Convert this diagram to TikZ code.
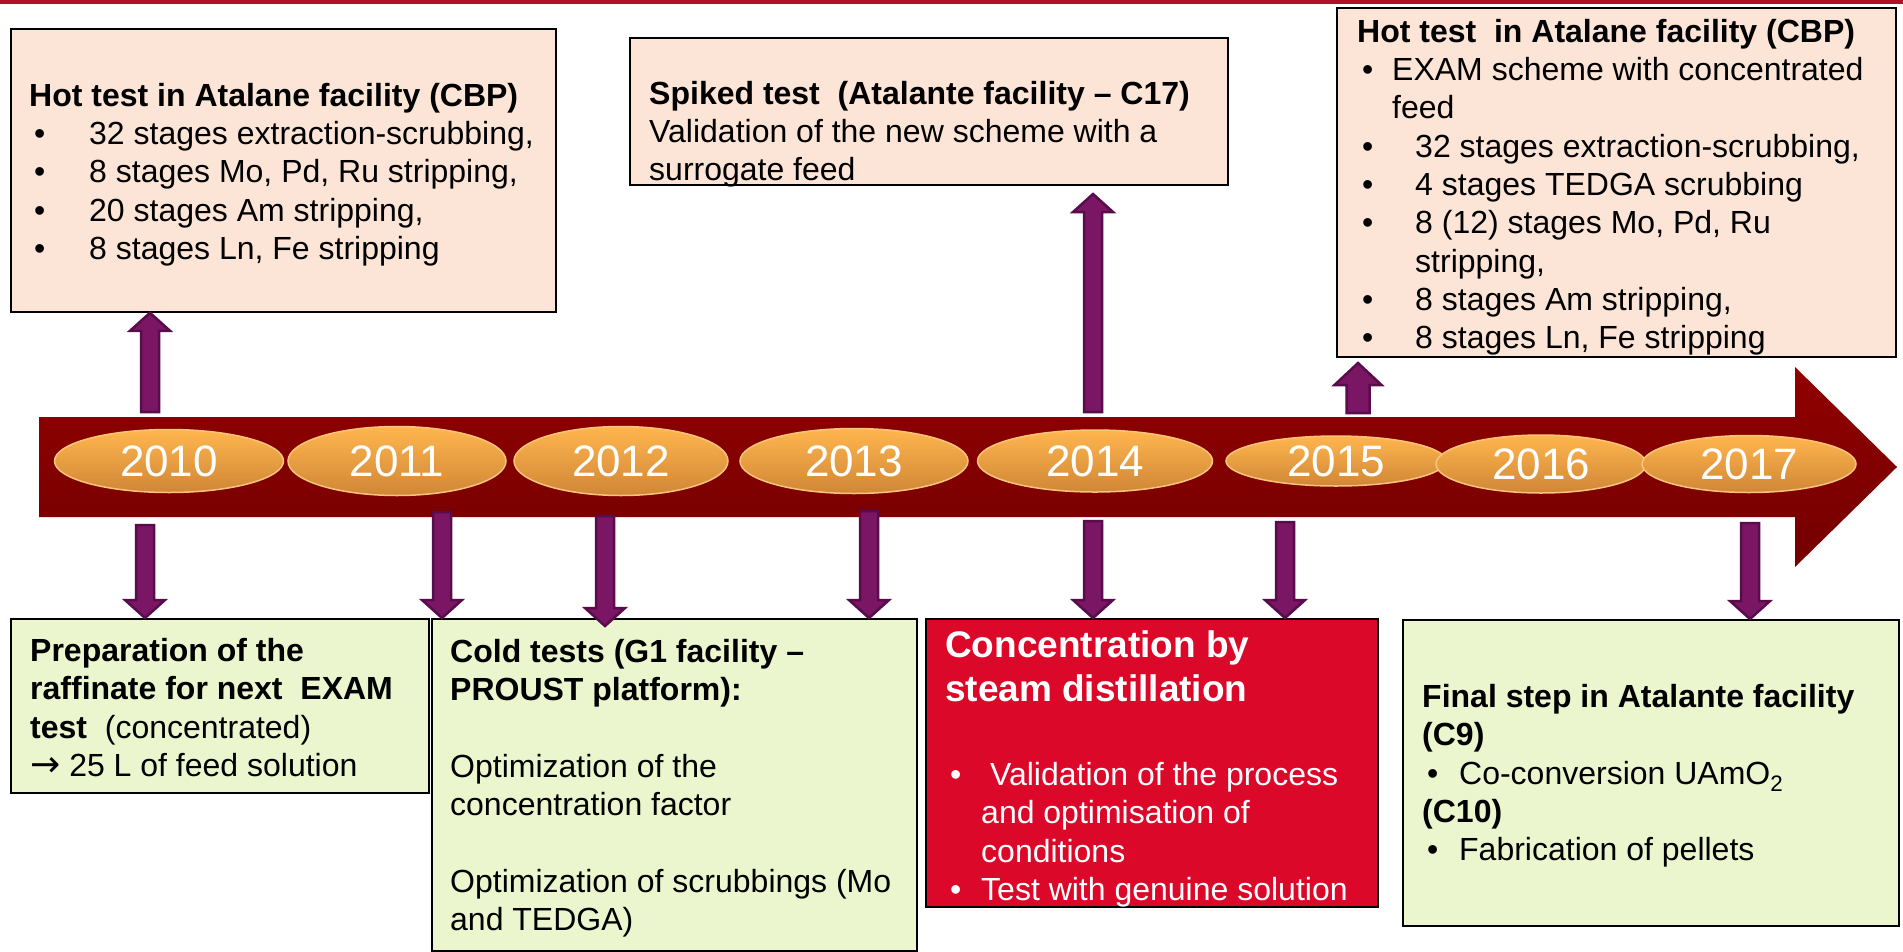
\documentclass[tikz,border=0pt]{standalone}
\usepackage{fontspec}
\setmainfont{Liberation Sans}
\newfontfamily\arrowfont{DejaVu Sans}
\usetikzlibrary{shapes.geometric,calc}
\definecolor{topband}{RGB}{175,18,38}
\definecolor{peach}{RGB}{252,229,214}
\definecolor{lime}{RGB}{235,245,206}
\definecolor{redbox}{RGB}{220,8,42}
\definecolor{linetop}{RGB}{145,0,0}
\definecolor{linebot}{RGB}{116,0,0}
\definecolor{yeartop}{RGB}{255,182,78}
\definecolor{yearbot}{RGB}{208,134,54}
\definecolor{yearedge}{RGB}{250,196,122}
\definecolor{arrowfill}{RGB}{122,22,100}
\definecolor{arrowedge}{RGB}{88,12,75}
\newcommand\itm[1][60pt]{\makebox[#1][l]{\hspace*{5pt}\textbullet}}
\tikzset{
    box/.style = {draw=black, line width=1.8pt, rectangle, inner sep=0pt, anchor=north west},
    peach-box/.style = {box, fill=peach},
    lime-box/.style = {box, fill=lime},
    red-box/.style = {box, fill=redbox},
    box-text/.style = {anchor=north west, inner sep=0pt, align=left, font=\fontsize{32pt}{38.3pt}\selectfont},
    year/.style = {ellipse, draw=yearedge, line width=1.5pt, top color=yeartop, bottom color=yearbot, text=white, inner sep=0pt, font=\fontsize{44pt}{44pt}\selectfont},
    block-arrow/.style n args = {3}{draw=arrowedge, line width=2.5pt, fill=arrowfill, line join=miter,
        to path={let \p1=(\tikztostart), \p2=(\tikztotarget), \p3=($(\tikztotarget)!#3pt!(\tikztostart)$) in
            ({\x1-#1pt},\y1) -- ({\x1-#1pt},\y3) -- ({\x1-#2pt},\y3) -- (\x1,\y2)
            -- ({\x1+#2pt},\y3) -- ({\x1+#1pt},\y3) -- ({\x1+#1pt},\y1) -- cycle}},
    time-arrow/.style = {block-arrow={9}{20}{18}},
    time-arrow-big/.style = {block-arrow={11.5}{23.5}{22}},
}

\begin{document}
\begin{tikzpicture}[x=1pt,y=-1pt]
\useasboundingbox (0,0) rectangle (1903,951);
\fill[topband] (0,0) rectangle (1903,4);

% boxes above the time line
\node[peach-box, minimum width=545pt, minimum height=283pt] (hotTest) at (10,28) {};
\node[peach-box, minimum width=598pt, minimum height=147pt] (spikedTest) at (629,37) {};
\node[peach-box, minimum width=559pt, minimum height=349pt] (hotTestII) at (1336,7) {};

% boxes below the time line
\node[lime-box, minimum width=418pt, minimum height=174pt] (prepRaff) at (10,618) {};
\node[lime-box, minimum width=485pt, minimum height=332pt] (coldTests) at (431,618) {};
\node[red-box, minimum width=452pt, minimum height=288pt] (steamDist) at (925,618) {};
\node[lime-box, minimum width=496pt, minimum height=306pt] (finalStep) at (1402,619) {};

% time line
\path[top color=linetop, bottom color=linebot]
    (39,417) -- (1795,417) -- (1795,367) -- (1897,467) -- (1795,567) -- (1795,517) -- (39,517) -- cycle;

\node[year, minimum width=229pt, minimum height=63pt] (y2010) at (169,461) {2010};
\node[year, minimum width=218pt, minimum height=69pt] (y2011) at (397,461) {2011};
\node[year, minimum width=214pt, minimum height=69pt] (y2012) at (621,461) {2012};
\node[year, minimum width=228pt, minimum height=65pt] (y2013) at (854,461) {2013};
\node[year, minimum width=235pt, minimum height=62pt] (y2014) at (1095,461) {2014};
\node[year, minimum width=220pt, minimum height=50pt] (y2015) at (1336,461) {2015};
\node[year, minimum width=210pt, minimum height=58pt] (y2016) at (1541,464) {2016};
\node[year, minimum width=214pt, minimum height=57pt] (y2017) at (1749,464) {2017};

% arrows
\coordinate (up10) at (150,412);
\coordinate (up14) at (1093,412);
\coordinate (up14tip) at (1093,194);
\coordinate (up15) at (1358,413);
\coordinate (up15tip) at (1358,363);
\coordinate (dn10) at (145,525);
\coordinate (dn11) at (442,512);
\coordinate (dn12) at (605,516);
\coordinate (dn13) at (869,511);
\coordinate (dn14) at (1093,521);
\coordinate (dn15) at (1285,522);
\coordinate (dn17) at (1750,523);

\draw[time-arrow] (up10) to (up10 |- hotTest.south);
\draw[time-arrow] (up14) to (up14tip);
\draw[time-arrow-big] (up15) to (up15tip);
\draw[time-arrow] (dn10) to (dn10 |- prepRaff.north);
\draw[time-arrow] (dn11) to (dn11 |- coldTests.north);
\draw[time-arrow] (dn12) to ($(dn12 |- coldTests.north)+(0,8)$);
\draw[time-arrow] (dn13) to (dn13 |- coldTests.north);
\draw[time-arrow] (dn14) to (dn14 |- steamDist.north);
\draw[time-arrow] (dn15) to (dn15 |- steamDist.north);
\draw[time-arrow] (dn17) to (dn17 |- finalStep.north);

% texts
\node[box-text] (hotTestTxt) at (29,83) {%
    {\bfseries Hot test in Atalane facility (CBP)}\\
    \itm 32 stages extraction-scrubbing,\\
    \itm 8 stages Mo, Pd, Ru stripping,\\
    \itm 20 stages Am stripping,\\
    \itm 8 stages Ln, Fe stripping};
\node[box-text] (spikedTestTxt) at (649,81) {%
    {\bfseries Spiked test\ \ (Atalante facility -- C17)}\\
    Validation of the new scheme with a\\
    surrogate feed};
\node[box-text] (hotTestIITxt) at (1357,19) {%
    {\bfseries Hot test\ \ in Atalane facility (CBP)}\\
    \itm[35pt]EXAM scheme with concentrated\\
    \hspace*{35pt}feed\\
    \itm[58pt]32 stages extraction-scrubbing,\\
    \itm[58pt]4 stages TEDGA scrubbing\\
    \itm[58pt]8 (12) stages Mo, Pd, Ru\\
    \hspace*{58pt}stripping,\\
    \itm[58pt]8 stages Am stripping,\\
    \itm[58pt]8 stages Ln, Fe stripping};
\node[box-text] (prepRaffTxt) at (30,638) {%
    {\bfseries Preparation of the}\\
    {\bfseries raffinate for next\ \ EXAM}\\
    {\bfseries test}\ \ (concentrated)\\
    {\arrowfont\fontsize{36pt}{38.3pt}\selectfont →} 25 L of feed solution};
\node[box-text] (coldTestsTxt) at (450,639) {%
    {\bfseries Cold tests (G1 facility --}\\
    {\bfseries PROUST platform):}\\[38.3pt]
    Optimization of the\\
    concentration factor\\[38.3pt]
    Optimization of scrubbings (Mo\\
    and TEDGA)};
\node[box-text, text=white, font=\fontsize{37pt}{44pt}\selectfont\bfseries] (steamDistTitle) at (945,630) {%
    Concentration by\\
    steam distillation};
\node[box-text, text=white] (steamDistTxt) at (945,762) {%
    \itm[36pt]\ Validation of the process\\
    \hspace*{36pt}and optimisation of\\
    \hspace*{36pt}conditions\\
    \itm[36pt]Test with genuine solution};
\node[box-text] (finalStepTxt) at (1422,684) {%
    {\bfseries Final step in Atalante facility}\\
    {\bfseries (C9)}\\
    \itm[37pt]Co-conversion UAmO\textsubscript{2}\\
    {\bfseries (C10)}\\
    \itm[37pt]Fabrication of pellets};
\end{tikzpicture}
\end{document}
